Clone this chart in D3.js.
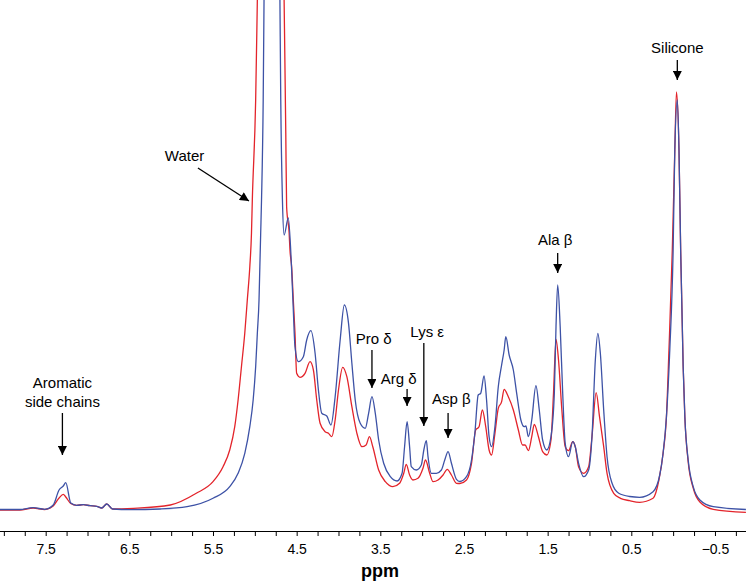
<!DOCTYPE html>
<html>
<head>
<meta charset="utf-8">
<script src="https://cdn.jsdelivr.net/npm/d3@7"></script>
<style>
  body { margin: 0; background: #fff; }
  svg { display: block; font-family: "Liberation Sans", Arial, sans-serif; }
  .axis path, .axis line { stroke: #000; stroke-width: 1; }
  .axis text { font-size: 14px; fill: #000; }
  .spec { fill: none; stroke-width: 1.3; }
  .note { font-size: 15px; fill: #000; }
</style>
</head>
<body>
<svg id="chart"></svg>
<script>
// chemical shift (ppm) and intensity (a.u.)
var bluePpm = [8.05, 7.81, 7.65, 7.51, 7.41, 7.34, 7.29, 7.26, 7.20, 7.13, 7.05, 6.97, 6.89, 6.83, 6.77, 6.70, 6.49, 6.13,
  5.81, 5.50, 5.30, 5.20, 5.12, 5.06, 5.02, 4.99, 4.97, 4.95, 4.94, 4.93, 4.92, 4.90, 4.89, 4.80,
  4.70, 4.69, 4.67, 4.65, 4.60, 4.56, 4.54, 4.52, 4.48, 4.42, 4.38, 4.33, 4.28, 4.24, 4.20, 4.14, 4.09,
  4.04, 3.98, 3.93, 3.88, 3.84, 3.80, 3.74, 3.68, 3.64, 3.60, 3.56, 3.52, 3.46, 3.38, 3.30, 3.24, 3.21,
  3.18, 3.15, 3.13, 3.07, 3.01, 2.98, 2.95, 2.93, 2.89, 2.83, 2.77, 2.73, 2.69, 2.65, 2.59, 2.55, 2.47,
  2.41, 2.37, 2.33, 2.30, 2.26, 2.23, 2.20, 2.17, 2.13, 2.09, 2.05, 2.02, 2.00, 1.96, 1.91, 1.87, 1.82,
  1.78, 1.76, 1.73, 1.69, 1.64, 1.60, 1.56, 1.51, 1.46, 1.42, 1.40, 1.38, 1.35, 1.32, 1.29, 1.25, 1.20,
  1.17, 1.13, 1.07, 1.01, 0.97, 0.93, 0.90, 0.87, 0.83, 0.79, 0.73, 0.65, 0.52, 0.40, 0.24, 0.16, 0.12,
  0.08, 0.04, 0.00, -0.02, -0.05, -0.07, -0.09, -0.12, -0.14, -0.18, -0.24, -0.32, -0.48, -0.87]
var blueInt = [1.5, 1.5, 3.3, 1.7, 6, 21, 25, 28.3, 8, 5.7, 6.3, 5.3, 4.7, 3, 7, 2, 1.3, 2,
  4.3, 12.7, 24.3, 37.7, 57.7, 84.3, 111, 144.3, 177.7, 211, 244.3, 277.7, 311, 411, 511, 1400,
  511, 411, 311, 276, 293, 241, 201, 164.3, 149.3, 154.3, 171, 180.3, 158, 121, 97.7, 95, 86,
  114.3, 171, 206, 187.7, 147.7, 111, 87.7, 82.7, 97.7, 114.3, 97.7, 71, 47.7, 34.3, 30, 37.7, 64.3,
  89.3, 64.3, 44.3, 41, 46, 61, 70.3, 54.3, 37.7, 37.7, 41, 51, 59.3, 47.7, 31.7, 29.5, 34.3,
  51, 77.7, 116, 117.7, 135, 111, 74.3, 64.3, 84.3, 124.3, 146, 161, 174.3, 156, 141, 117.7, 91,
  84.3, 85, 74.3, 91, 125.3, 101, 71, 61, 74.3, 117.7, 184.3, 226, 184.3, 117.7, 67.7, 54.3, 69.3,
  64.3, 47.7, 34.3, 41, 74.3, 151, 177.7, 157.7, 101, 54.3, 27.7, 17.7, 14.5, 13.7, 19.3, 36, 57.7,
  94.3, 161, 261, 361, 411, 361, 261, 144.3, 94.3, 51, 24.3, 11, 4.3, 1.5]

var redPpm = [8.05, 7.81, 7.65, 7.51, 7.41, 7.34, 7.29, 7.26, 7.20, 7.13, 7.05, 6.97, 6.89, 6.83, 6.77, 6.70, 6.45, 6.01,
  5.70, 5.50, 5.38, 5.30, 5.24, 5.20, 5.16, 5.12, 5.09, 5.06, 5.04, 5.03, 4.99, 4.97, 4.81,
  4.65, 4.63, 4.62, 4.59, 4.58, 4.56, 4.54, 4.52, 4.50, 4.46, 4.40, 4.34, 4.30, 4.26, 4.22, 4.16, 4.12,
  4.08, 4.04, 4.00, 3.95, 3.90, 3.84, 3.78, 3.72, 3.67, 3.63, 3.59, 3.52, 3.44, 3.35, 3.27, 3.22, 3.19,
  3.15, 3.11, 3.05, 2.99, 2.96, 2.91, 2.87, 2.81, 2.75, 2.70, 2.65, 2.59, 2.55, 2.47, 2.41, 2.36, 2.32,
  2.28, 2.24, 2.20, 2.17, 2.13, 2.09, 2.05, 2.02, 1.97, 1.91, 1.85, 1.80, 1.77, 1.73, 1.69, 1.66, 1.61,
  1.56, 1.51, 1.46, 1.43, 1.40, 1.37, 1.33, 1.29, 1.25, 1.20, 1.17, 1.13, 1.07, 1.01, 0.97, 0.92, 0.88,
  0.83, 0.79, 0.71, 0.63, 0.52, 0.40, 0.24, 0.17, 0.12, 0.08, 0.05, 0.01, -0.02, -0.04, -0.07, -0.09,
  -0.12, -0.14, -0.18, -0.24, -0.32, -0.48, -0.87]
var redInt = [1, 1, 3, 1.5, 5, 13, 16.7, 14, 7.5, 5.7, 6.3, 5.3, 4.7, 3, 7, 2, 2.7, 6,
  17.7, 29.3, 44.3, 61, 84.3, 111, 144.3, 178, 211, 244.3, 278, 311, 411, 511, 1400,
  511, 378, 304.3, 278, 261, 244.3, 211, 178, 137.7, 133.7, 137.7, 149.3, 141, 111, 87.7, 79.3, 77.7,
  74.3, 91, 121, 143.7, 134.3, 104.3, 77.7, 64.3, 66, 74.3, 64.3, 41, 29.3, 24.3, 27.7, 37.7, 46.7,
  36, 31, 32.7, 42.7, 51, 37.7, 29.3, 31, 36, 41.7, 36, 27.7, 27.5, 31, 47.7, 81, 84.3,
  101, 84.3, 61, 56, 77.7, 102.7, 109.3, 121.7, 114.3, 101, 81, 66, 66, 60.3, 74.3, 86.7, 74.3,
  59.3, 56, 71, 117.7, 171.7, 151, 101, 64.3, 60.3, 69.3, 64.3, 44.3, 37.7, 44.3, 74.3, 118.3, 94.3,
  64.3, 37.7, 17.7, 12.7, 10.3, 8.7, 12.7, 31, 57.7, 94.3, 161, 261, 361, 419, 361, 261,
  144.3, 94.3, 49, 23, 9, 1.7, -1.3]

var tickPpm = d3.range(32, -4, -1).map(function(i) { return i / 4 })
var tickLabels = ["7.5", "6.5", "5.5", "4.5", "3.5", "2.5", "1.5", "0.5", "\u22120.5"]
var labelPpm = [7.5, 6.5, 5.5, 4.5, 3.5, 2.5, 1.5, 0.5, -0.5]

// annotations: text lines, arrow start/tip in ppm and intensity
var noteText = [["Aromatic", "side chains"], ["Water"], ["Pro \u03b4"], ["Arg \u03b4"], ["Lys \u03b5"], ["Asp \u03b2"], ["Ala \u03b2"], ["Silicone"]]
var noteTextPpm = [7.30, 5.84, 3.58, 3.28, 2.94, 2.65, 1.41, -0.05]
var noteTextInt = [123, 350, 167, 127, 174, 107, 266, 458]
var arrowFrom = [[7.30, 98], [5.68, 343], [3.60, 161], [3.18, 122], [2.98, 168], [2.69, 98], [1.38, 258], [-0.05, 451]]
var arrowTo = [[7.30, 56], [5.07, 310], [3.60, 123], [3.18, 105], [2.98, 85], [2.69, 73], [1.38, 238], [-0.05, 431]]

var width = 746
var height = 582
var axisY = 531

var svg = d3.select("#chart")
  .attr("width", width)
  .attr("height", height)

var x = d3.scaleLinear()
  .domain([8.046, -0.871])
  .range([0, width])

var y = d3.scaleLinear()
  .domain([0, 511])
  .range([511, 0])

svg.append("defs").append("clipPath")
  .attr("id", "plot-clip")
  .append("rect")
  .attr("x", 0).attr("y", 0)
  .attr("width", width).attr("height", axisY)

svg.select("defs").append("marker")
  .attr("id", "head")
  .attr("markerUnits", "userSpaceOnUse")
  .attr("viewBox", "0 0 10 10")
  .attr("refX", 10).attr("refY", 5)
  .attr("markerWidth", 10).attr("markerHeight", 9)
  .attr("orient", "auto")
  .append("path")
  .attr("d", "M0,0L10,5L0,10Z")
  .attr("fill", "#000")

var line = d3.line()
  .x(function(d) { return x(d[0]) })
  .y(function(d) { return y(d[1]) })
  .curve(d3.curveMonotoneX)

var series = [
  { pts: d3.zip(redPpm, redInt), color: "#e3242b" },
  { pts: d3.zip(bluePpm, blueInt), color: "#3d52a6" }
]

svg.append("g")
  .attr("clip-path", "url(#plot-clip)")
  .selectAll(".spec")
  .data(series)
  .enter().append("path")
  .attr("class", "spec")
  .attr("stroke", function(d) { return d.color })
  .attr("d", function(d) { return line(d.pts) })

var xAxis = d3.axisBottom(x)
  .tickValues(tickPpm)
  .tickSize(5)
  .tickSizeOuter(0)
  .tickFormat(function(d) {
    var i = labelPpm.indexOf(d)
    return i < 0 ? "" : tickLabels[i]
  })

var gx = svg.append("g")
  .attr("class", "axis")
  .attr("transform", "translate(0," + axisY + ")")
  .call(xAxis)

gx.select(".domain").attr("d", "M0,0.5H" + width)
gx.selectAll(".tick text").attr("dy", "1.05em").attr("y", 8)

svg.append("text")
  .attr("x", 380)
  .attr("y", 577)
  .attr("text-anchor", "middle")
  .attr("font-size", 18)
  .attr("font-weight", "bold")
  .text("ppm")

// arrows and labels
svg.selectAll(".arrow")
  .data(arrowFrom)
  .enter().append("line")
  .attr("class", "arrow")
  .attr("x1", function(d) { return x(d[0]) })
  .attr("y1", function(d) { return y(d[1]) })
  .attr("x2", function(d, i) { return x(arrowTo[i][0]) })
  .attr("y2", function(d, i) { return y(arrowTo[i][1]) })
  .attr("stroke", "#000")
  .attr("stroke-width", 1.3)
  .attr("marker-end", "url(#head)")

var notes = svg.selectAll(".note")
  .data(noteText)
  .enter().append("text")
  .attr("class", "note")
  .attr("text-anchor", "middle")
  .attr("x", function(d, i) { return x(noteTextPpm[i]) })
  .attr("y", function(d, i) { return y(noteTextInt[i]) })

notes.selectAll("tspan")
  .data(function(d) { return d })
  .enter().append("tspan")
  .attr("x", function() { return this.parentNode.getAttribute("x") })
  .attr("dy", function(d, i) { return i === 0 ? 0 : 19 })
  .text(function(d) { return d })
</script>
</body>
</html>
